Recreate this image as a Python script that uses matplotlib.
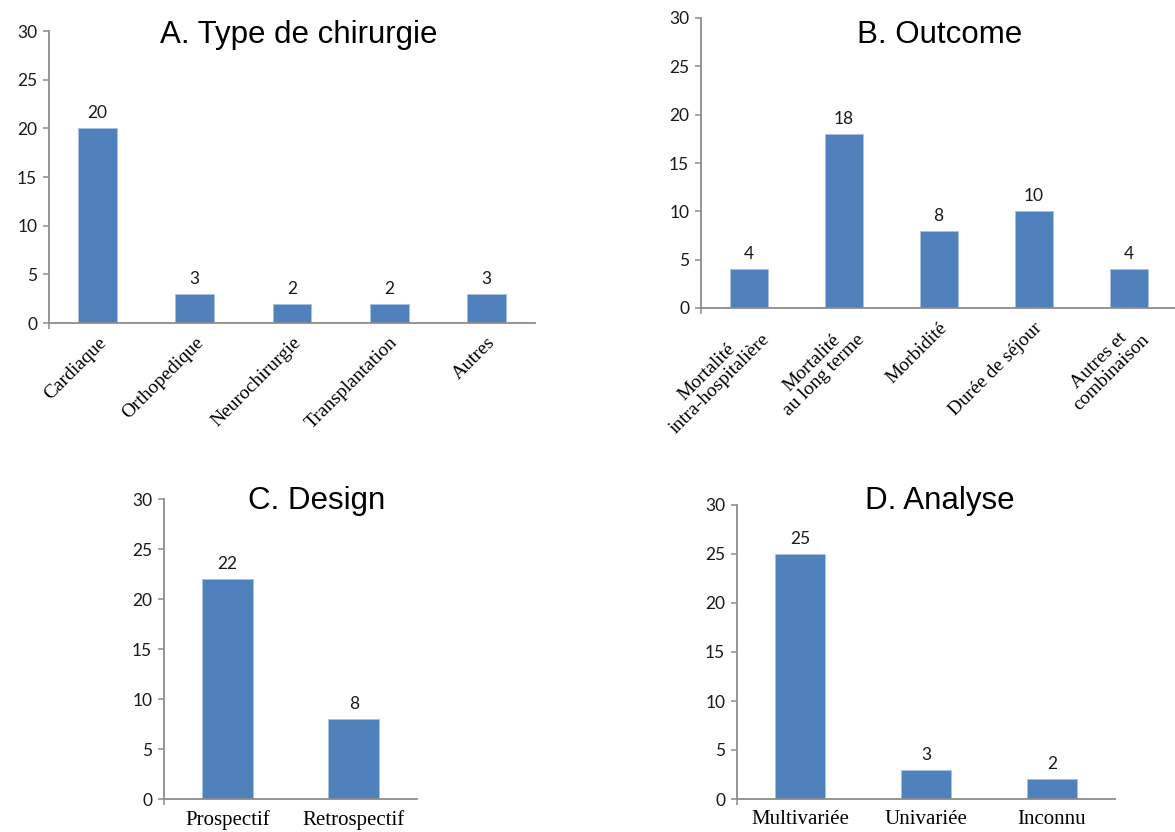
import matplotlib
matplotlib.use('Agg')
import matplotlib.pyplot as plt
import numpy as np

W, H = 1175, 832

chir_labels = ['Cardiaque', 'Orthopedique', 'Neurochirurgie', 'Transplantation', 'Autres']
chir_values = [20, 3, 2, 2, 3]

outcome_labels = ['Mortalité\nintra-hospitalière', 'Mortalité\nau long terme', 'Morbidité',
                  'Durée de séjour', 'Autres et\ncombinaison']
outcome_values = [4, 18, 8, 10, 4]

design_labels = ['Prospectif', 'Retrospectif']
design_values = [22, 8]

analyse_labels = ['Multivariée', 'Univariée', 'Inconnu']
analyse_values = [25, 3, 2]

BAR = '#4f81bd'
AXC = '#8c8c8c'
NUMFONT = ['Lato', 'DejaVu Sans']
CATFONT = ['Liberation Serif', 'DejaVu Serif']


def px_axes(fig, left, right, top, bottom):
    # pixel box -> figure fraction
    return fig.add_axes([left / W, 1 - bottom / H, (right - left) / W, (bottom - top) / H])


def bar_panel(ax, labels, values, rotate=False):
    x = np.arange(len(values))
    ax.bar(x, values, width=0.4, color=BAR, edgecolor='#a9c1e0', linewidth=0.6, zorder=2)
    for xi, v in zip(x, values):
        ax.annotate(str(v), (xi, v), xytext=(0, 5), textcoords='offset points',
                    ha='center', va='bottom', fontsize=12.5, family=NUMFONT, color='#1a1a1a')
    ax.set_xlim(-0.5, len(values) - 0.5)
    ax.set_ylim(0, 30)
    ax.set_yticks(range(0, 31, 5))
    for s in ['top', 'right']:
        ax.spines[s].set_visible(False)
    for s in ['left', 'bottom']:
        ax.spines[s].set_color(AXC)
        ax.spines[s].set_linewidth(1.3)
    ax.tick_params(axis='y', direction='out', length=4.5, width=1.1, color=AXC,
                   labelsize=12.5, pad=4, labelcolor='#1a1a1a')
    for t in ax.get_yticklabels():
        t.set_family(NUMFONT)
    ax.set_xticks(x)
    ax.set_xticks([-0.5], minor=True)
    ax.tick_params(axis='x', which='major', length=0, pad=8)
    ax.tick_params(axis='x', which='minor', direction='out', length=4.5, width=1.1, color=AXC)
    if rotate:
        ax.set_xticklabels(labels, rotation=45, ha='right', rotation_mode='anchor',
                           multialignment='center', fontsize=14, family=CATFONT,
                           linespacing=1.0)
    else:
        ax.set_xticklabels(labels, fontsize=15, family=CATFONT)


fig = plt.figure(figsize=(W / 100, H / 100), dpi=100)

axA = px_axes(fig, 49, 535, 31, 323)
bar_panel(axA, chir_labels, chir_values, rotate=True)

axB = px_axes(fig, 701, 1176, 18, 308)
bar_panel(axB, outcome_labels, outcome_values, rotate=True)

axC = px_axes(fig, 164, 417, 499, 799)
bar_panel(axC, design_labels, design_values)

axD = px_axes(fig, 737, 1115, 505, 799)
bar_panel(axD, analyse_labels, analyse_values)

titles = [('A. Type de chirurgie', 299, 35), ('B. Outcome', 940, 35),
          ('C. Design', 317, 501), ('D. Analyse', 940, 501)]
for txt, tx, ty in titles:
    fig.text(tx / W, 1 - ty / H, txt, ha='center', va='center', fontsize=22.5,
             family=['Liberation Sans', 'DejaVu Sans'], color='black')

fig.savefig('out.png', dpi=100)
